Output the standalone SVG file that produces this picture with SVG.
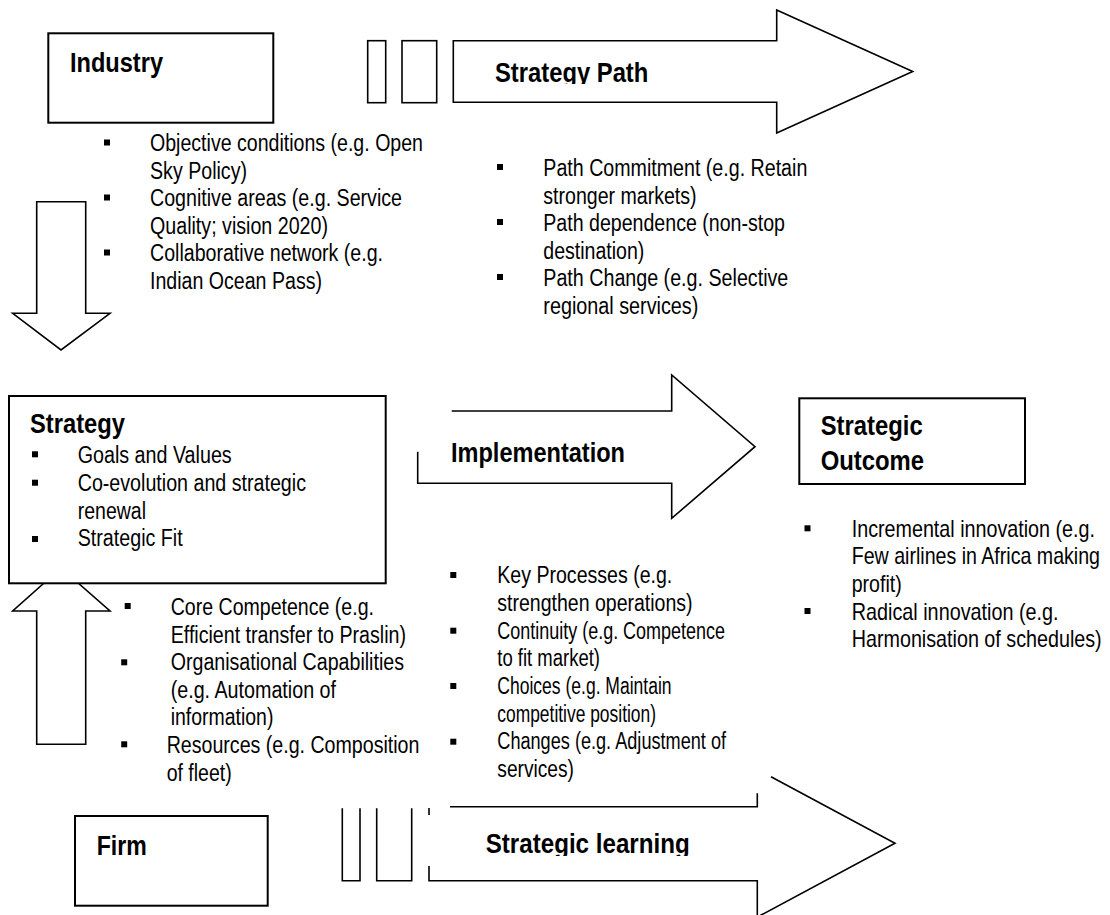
<svg xmlns="http://www.w3.org/2000/svg" width="1110" height="915" viewBox="0 0 1110 915">
<style>
.t{font-family:"Liberation Sans",Arial,sans-serif;font-size:23px;fill:#000}
.h{font-family:"Liberation Sans",Arial,sans-serif;font-size:28px;font-weight:bold;fill:#000}
.box{fill:#fff;stroke:#000;stroke-width:2}
.ln{fill:none;stroke:#000;stroke-width:1.6}
.arr{fill:#fff;stroke:#000;stroke-width:1.6}
</style>
<defs>
<clipPath id="clipTop"><rect x="400" y="0" width="400" height="84"/></clipPath>
<clipPath id="clipBot"><rect x="400" y="800" width="400" height="56"/></clipPath>
<rect id="sq" width="6" height="6" fill="#000"/>
</defs>
<rect width="1110" height="915" fill="#fff"/>

<g id="connectors">
  <rect class="ln" x="367.7" y="40.7" width="18" height="62"/>
  <rect class="ln" x="402" y="40.7" width="34.7" height="62"/>
  <path class="arr" d="M453.3,40.7 H776.7 V10 L912.7,71.5 L776.7,133 V102.3 H453.3 Z"/>
  <path class="arr" d="M36.7,201.7 H85.7 V313.3 H110 L61,350 L12.7,313.3 H36.7 Z"/>
  <path class="arr" d="M36.7,744.3 H85.7 V611 H110 L61,568 L12.7,611 H36.7 Z"/>
  <path class="ln" d="M451.7,411 H671.7 V375 L755,446.7 L671.7,518.3 V483.3 H417.7 V451.7"/>
  <path class="ln" d="M342.3,808.3 V880.7 H360 V808.3"/>
  <path class="ln" d="M376.7,808.3 V880.7 H411.7 V808.3"/>
  <path class="ln" d="M429,808 V815"/>
  <path class="ln" d="M429,866 V880.7 H757.3 V916"/>
  <path class="ln" d="M450,806.7 H757.3 V793.3"/>
  <path class="ln" d="M771,776.7 L895,843.3 L757.5,917"/>
</g>

<g id="industry">
  <rect class="box" x="48.3" y="33.3" width="225" height="89.4"/>
  <text class="h" x="70" y="71.7" textLength="93" lengthAdjust="spacingAndGlyphs">Industry</text>
</g>

<g id="industry-items">
  <use href="#sq" x="104" y="139.5"/>
  <use href="#sq" x="104" y="194.5"/>
  <use href="#sq" x="104" y="249.5"/>
  <text class="t" x="150" y="151" textLength="273" lengthAdjust="spacingAndGlyphs">Objective conditions (e.g. Open</text>
  <text class="t" x="150" y="178.5" textLength="97" lengthAdjust="spacingAndGlyphs">Sky Policy)</text>
  <text class="t" x="150" y="206" textLength="252" lengthAdjust="spacingAndGlyphs">Cognitive areas (e.g. Service</text>
  <text class="t" x="150" y="233.5" textLength="178" lengthAdjust="spacingAndGlyphs">Quality; vision 2020)</text>
  <text class="t" x="150" y="261" textLength="233" lengthAdjust="spacingAndGlyphs">Collaborative network (e.g.</text>
  <text class="t" x="150" y="288.5" textLength="172" lengthAdjust="spacingAndGlyphs">Indian Ocean Pass)</text>
</g>

<g id="strategy-path">
  <text class="h" x="495" y="81.7" textLength="153.3" lengthAdjust="spacingAndGlyphs" clip-path="url(#clipTop)">Strategy Path</text>
</g>

<g id="path-items">
  <use href="#sq" x="497" y="164"/>
  <use href="#sq" x="497" y="219"/>
  <use href="#sq" x="497" y="274"/>
  <text class="t" x="543.3" y="176" textLength="264" lengthAdjust="spacingAndGlyphs">Path Commitment (e.g. Retain</text>
  <text class="t" x="543.3" y="203.5" textLength="153.3" lengthAdjust="spacingAndGlyphs">stronger markets)</text>
  <text class="t" x="543.3" y="231" textLength="241.7" lengthAdjust="spacingAndGlyphs">Path dependence (non-stop</text>
  <text class="t" x="543.3" y="258.5" textLength="101" lengthAdjust="spacingAndGlyphs">destination)</text>
  <text class="t" x="543.3" y="286" textLength="245" lengthAdjust="spacingAndGlyphs">Path Change (e.g. Selective</text>
  <text class="t" x="543.3" y="313.5" textLength="155" lengthAdjust="spacingAndGlyphs">regional services)</text>
</g>

<g id="strategy">
  <rect class="box" x="9" y="396" width="376.7" height="187.3"/>
  <text class="h" x="30" y="433.3" textLength="95" lengthAdjust="spacingAndGlyphs">Strategy</text>
  <use href="#sq" x="32" y="451.3"/>
  <use href="#sq" x="32" y="479.7"/>
  <use href="#sq" x="32" y="536"/>
  <text class="t" x="77.7" y="463.3" textLength="154" lengthAdjust="spacingAndGlyphs">Goals and Values</text>
  <text class="t" x="77.7" y="491" textLength="228.3" lengthAdjust="spacingAndGlyphs">Co-evolution and strategic</text>
  <text class="t" x="77.7" y="518.5" textLength="68.3" lengthAdjust="spacingAndGlyphs">renewal</text>
  <text class="t" x="77.7" y="546.2" textLength="105" lengthAdjust="spacingAndGlyphs">Strategic Fit</text>
</g>

<g id="firm-items">
  <use href="#sq" x="124.7" y="603"/>
  <use href="#sq" x="121.2" y="659.3"/>
  <use href="#sq" x="121.2" y="741.3"/>
  <text class="t" x="170.7" y="615" textLength="203.3" lengthAdjust="spacingAndGlyphs">Core Competence (e.g.</text>
  <text class="t" x="170.7" y="642.7" textLength="235.3" lengthAdjust="spacingAndGlyphs">Efficient transfer to Praslin)</text>
  <text class="t" x="170.7" y="670" textLength="233.3" lengthAdjust="spacingAndGlyphs">Organisational Capabilities</text>
  <text class="t" x="170.7" y="697.5" textLength="165.3" lengthAdjust="spacingAndGlyphs">(e.g. Automation of</text>
  <text class="t" x="170.7" y="725" textLength="102.7" lengthAdjust="spacingAndGlyphs">information)</text>
  <text class="t" x="166.7" y="753.3" textLength="252.7" lengthAdjust="spacingAndGlyphs">Resources (e.g. Composition</text>
  <text class="t" x="166.7" y="780.7" textLength="65" lengthAdjust="spacingAndGlyphs">of fleet)</text>
</g>

<g id="implementation">
  <text class="h" x="451" y="461.7" textLength="174" lengthAdjust="spacingAndGlyphs">Implementation</text>
</g>

<g id="implementation-items">
  <use href="#sq" x="450.3" y="572"/>
  <use href="#sq" x="450.3" y="627.7"/>
  <use href="#sq" x="450.3" y="683"/>
  <use href="#sq" x="450.3" y="738.7"/>
  <text class="t" x="497.3" y="583.3" textLength="175" lengthAdjust="spacingAndGlyphs">Key Processes (e.g.</text>
  <text class="t" x="497.3" y="611" textLength="195.3" lengthAdjust="spacingAndGlyphs">strengthen operations)</text>
  <text class="t" x="497.3" y="638.7" textLength="227.7" lengthAdjust="spacingAndGlyphs">Continuity (e.g. Competence</text>
  <text class="t" x="497.3" y="666.3" textLength="102.7" lengthAdjust="spacingAndGlyphs">to fit market)</text>
  <text class="t" x="497.3" y="694" textLength="174.3" lengthAdjust="spacingAndGlyphs">Choices (e.g. Maintain</text>
  <text class="t" x="497.3" y="721.7" textLength="158.7" lengthAdjust="spacingAndGlyphs">competitive position)</text>
  <text class="t" x="497.3" y="749.3" textLength="228.7" lengthAdjust="spacingAndGlyphs">Changes (e.g. Adjustment of</text>
  <text class="t" x="497.3" y="777" textLength="76.7" lengthAdjust="spacingAndGlyphs">services)</text>
</g>

<g id="strategic-outcome">
  <rect class="box" x="799.3" y="398.3" width="225.7" height="85.7"/>
  <text class="h" x="820.7" y="435" textLength="102" lengthAdjust="spacingAndGlyphs">Strategic</text>
  <text class="h" x="820.7" y="470" textLength="103.3" lengthAdjust="spacingAndGlyphs">Outcome</text>
</g>

<g id="outcome-items">
  <use href="#sq" x="804.5" y="525.3"/>
  <use href="#sq" x="804.5" y="608"/>
  <g transform="translate(851.7,0) scale(0.85,1)">
    <text class="t" x="0" y="536.7" textLength="286.2" lengthAdjust="spacingAndGlyphs">Incremental innovation (e.g.</text>
    <text class="t" x="0" y="564.4" textLength="292.1" lengthAdjust="spacingAndGlyphs">Few airlines in Africa making</text>
    <text class="t" x="0" y="592" textLength="58.8" lengthAdjust="spacingAndGlyphs">profit)</text>
    <text class="t" x="0" y="619.7" textLength="243.4" lengthAdjust="spacingAndGlyphs">Radical innovation (e.g.</text>
    <text class="t" x="0" y="647.4" textLength="294.1" lengthAdjust="spacingAndGlyphs">Harmonisation of schedules)</text>
  </g>
</g>

<g id="firm">
  <rect class="box" x="75" y="816" width="192.7" height="89.7"/>
  <text class="h" x="96.7" y="855" textLength="50" lengthAdjust="spacingAndGlyphs">Firm</text>
</g>

<g id="strategic-learning">
  <text class="h" x="485.7" y="853.3" textLength="204" lengthAdjust="spacingAndGlyphs" clip-path="url(#clipBot)">Strategic learning</text>
</g>
</svg>
